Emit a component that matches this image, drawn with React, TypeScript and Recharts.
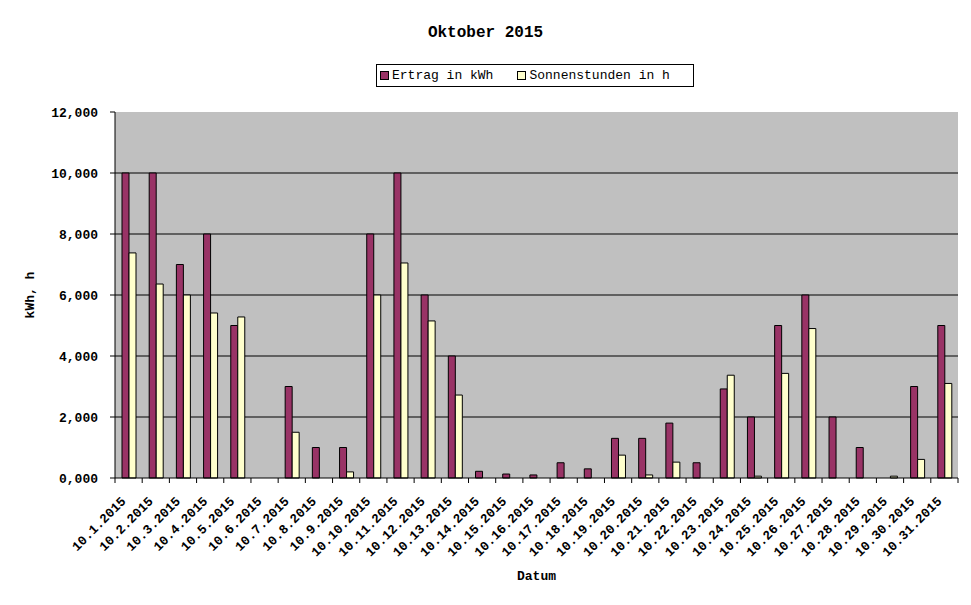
import { Bar, BarChart, CartesianGrid, Legend, XAxis, YAxis } from 'recharts';

const days = [
  '10.1.2015', '10.2.2015', '10.3.2015', '10.4.2015', '10.5.2015', '10.6.2015', '10.7.2015', '10.8.2015',
  '10.9.2015', '10.10.2015', '10.11.2015', '10.12.2015', '10.13.2015', '10.14.2015', '10.15.2015', '10.16.2015',
  '10.17.2015', '10.18.2015', '10.19.2015', '10.20.2015', '10.21.2015', '10.22.2015', '10.23.2015', '10.24.2015',
  '10.25.2015', '10.26.2015', '10.27.2015', '10.28.2015', '10.29.2015', '10.30.2015', '10.31.2015',
];

const ertrag = [10, 10, 7, 8, 5, 0, 3, 1, 1, 8, 10, 6, 4, 0.22, 0.13, 0.1, 0.5, 0.3, 1.3, 1.3, 1.8, 0.5, 2.92, 2, 5, 6, 2, 1, 0, 3, 5];
const sonnen = [7.38, 6.36, 6, 5.41, 5.28, 0, 1.5, 0, 0.2, 6, 7.05, 5.15, 2.72, 0, 0, 0, 0, 0, 0.75, 0.1, 0.52, 0, 3.37, 0.06, 3.43, 4.9, 0, 0, 0.06, 0.61, 3.1];

const yTicks = [0, 2, 4, 6, 8, 10, 12];
const gridValues = [2, 4, 6, 8, 10];

const series = [
  { key: 'ertrag', name: 'Ertrag in kWh', color: '#993366' },
  { key: 'sonnen', name: 'Sonnenstunden in h', color: '#FFFFCC' },
];

const data = days.map((d, i) => ({ day: d, ertrag: ertrag[i], sonnen: sonnen[i] }));

const W = 971;
const H = 605;
const PLOT_LEFT = 115;
const PLOT_RIGHT = 958;
const PLOT_BOTTOM = 478;
const band = (PLOT_RIGHT - PLOT_LEFT) / days.length;
const mono = '"Liberation Mono", "DejaVu Sans Mono", monospace';

const fmt = (v: number) => v.toFixed(3).replace('.', ',');

const XTick = (props: any) => {
  const { x, payload, index } = props;
  const tx = x - 2;
  const ty = PLOT_BOTTOM + 24;
  const left = x - band / 2;
  return (
    <g>
      <line x1={left} y1={PLOT_BOTTOM} x2={left} y2={PLOT_BOTTOM + 5} stroke="#000" />
      {index === days.length - 1 && (
        <line x1={x + band / 2} y1={PLOT_BOTTOM} x2={x + band / 2} y2={PLOT_BOTTOM + 5} stroke="#000" />
      )}
      <text x={tx} y={ty} transform={`rotate(-45 ${tx} ${ty})`} textAnchor="end"
        fontFamily={mono} fontWeight="bold" fontSize={13} fill="#000">
        {payload.value}
      </text>
    </g>
  );
};

const LegendBox = () => (
  <div style={{
    width: 316, height: 21, border: '1px solid #000', background: '#fff', display: 'flex',
    alignItems: 'center', fontFamily: mono, fontSize: 13, color: '#000', boxSizing: 'content-box',
  }}>
    {series.map((s, i) => (
      <div key={s.key} style={{ display: 'flex', alignItems: 'center', marginLeft: i === 0 ? 3 : 24 }}>
        <span style={{ width: 7, height: 7, background: s.color, border: '1px solid #000', marginRight: 3, display: 'inline-block' }} />
        <span style={{ whiteSpace: 'pre' }}>{s.name}</span>
      </div>
    ))}
  </div>
);

export default function App() {
  return (
    <div style={{ position: 'absolute', left: 0, top: 0, width: W, height: H, background: '#fff' }}>
      <div style={{
        position: 'absolute', top: 24, left: 0, width: 971, textAlign: 'center',
        fontFamily: mono, fontWeight: 'bold', fontSize: 16, color: '#000',
      }}>
        Oktober 2015
      </div>
      <BarChart width={W} height={H} data={data} margin={{ top: 112, right: W - PLOT_RIGHT, left: 0, bottom: 0 }}
        barGap={0} barSize={7}>
        <CartesianGrid horizontalValues={gridValues} vertical={false} stroke="#000" strokeWidth={1}
          fill="#C0C0C0" fillOpacity={1} />
        <XAxis dataKey="day" height={H - PLOT_BOTTOM} interval={0} tickLine={false} axisLine={{ stroke: '#000' }}
          tick={<XTick />}
          label={() => (
            <text x={(PLOT_LEFT + PLOT_RIGHT) / 2} y={580} textAnchor="middle" fontFamily={mono}
              fontWeight="bold" fontSize={13} fill="#000">Datum</text>
          )} />
        <YAxis width={PLOT_LEFT} domain={[0, 12]} ticks={yTicks} tickFormatter={fmt} axisLine={{ stroke: '#000' }}
          tickLine={{ stroke: '#000' }} tickSize={5} tickMargin={12}
          tick={{ fill: '#000', fontFamily: mono, fontWeight: 'bold', fontSize: 13 }}
          label={() => (
            <text x={34} y={295} transform="rotate(-90 34 295)" textAnchor="middle" fontFamily={mono}
              fontWeight="bold" fontSize={13} fill="#000">kWh, h</text>
          )} />
        <Legend content={<LegendBox />} layout="horizontal" verticalAlign="middle" align="center"
          wrapperStyle={{ position: 'absolute', top: 64, left: 376, width: 320, height: 23 }} />
        {series.map((s) => (
          <Bar key={s.key} dataKey={s.key} name={s.name} fill={s.color} stroke="#000" strokeWidth={1}
            isAnimationActive={false} />
        ))}
      </BarChart>
    </div>
  );
}
